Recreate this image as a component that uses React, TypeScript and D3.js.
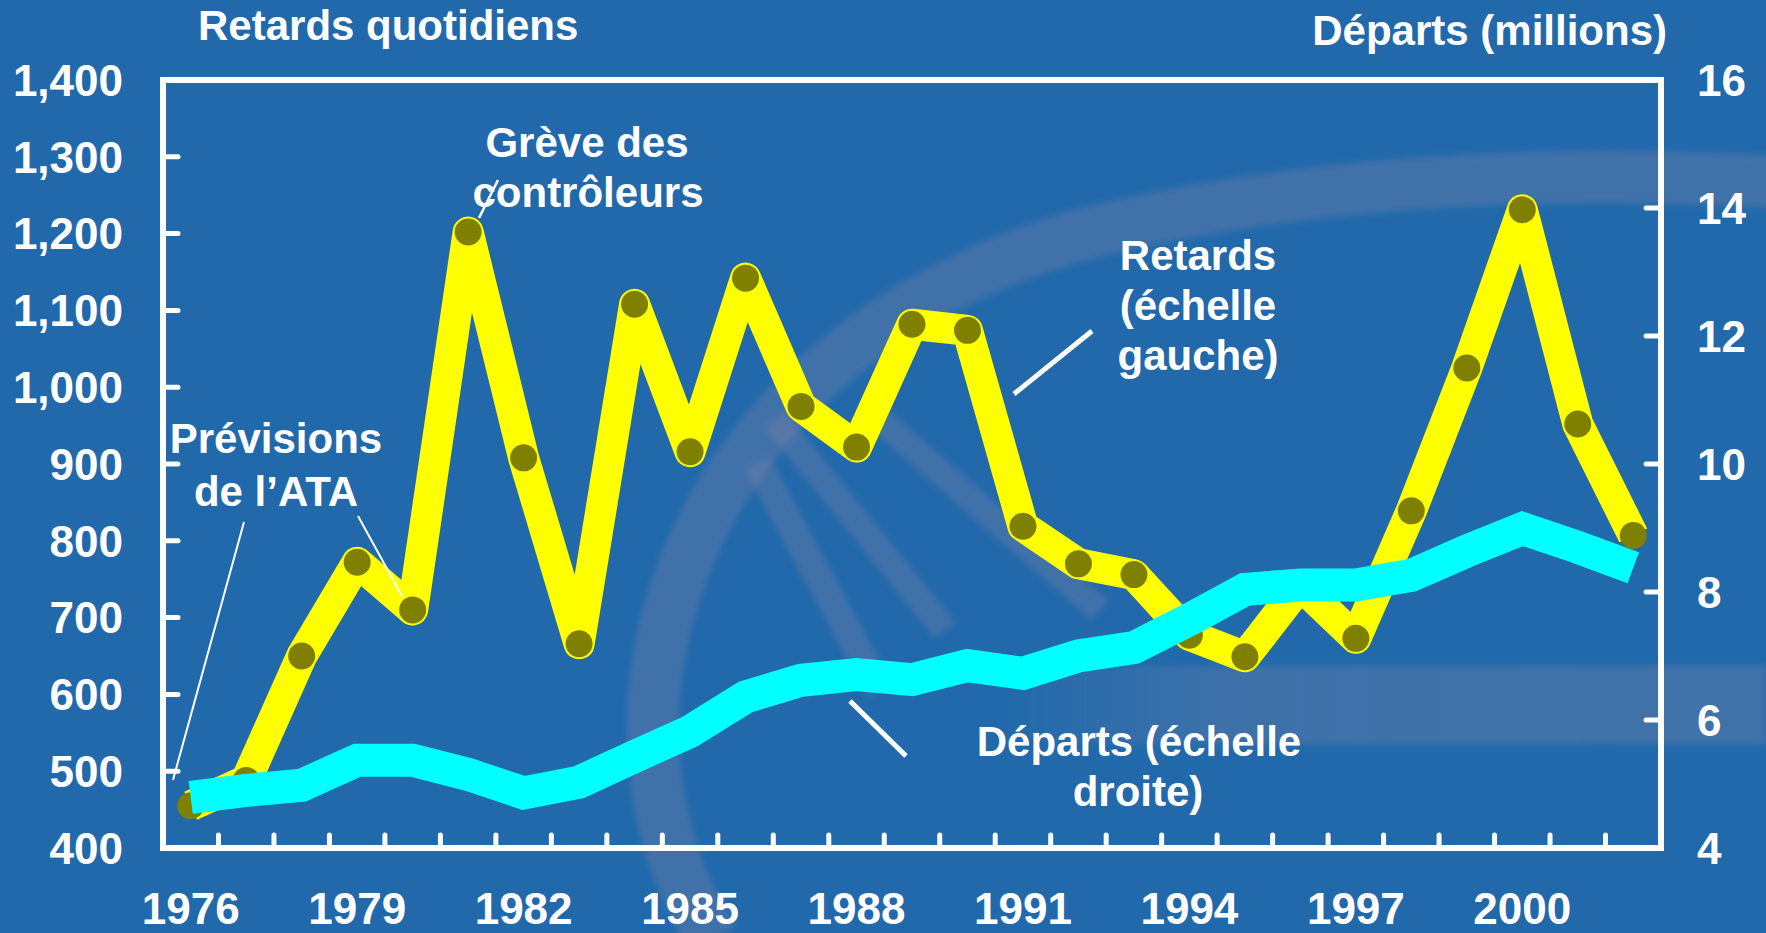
import React from 'react';
import * as d3 from 'd3';

const years = [1976, 1977, 1978, 1979, 1980, 1981, 1982, 1983, 1984, 1985, 1986, 1987, 1988, 1989, 1990, 1991, 1992, 1993, 1994, 1995, 1996, 1997, 1998, 1999, 2000, 2001, 2002];
const retards = [455, 488, 650, 772, 710, 1202, 908, 666, 1108, 916, 1142, 975, 922, 1082, 1074, 819, 770, 756, 677, 649, 742, 673, 839, 1025, 1231, 952, 807];
const departs = [4.79, 4.9, 4.98, 5.37, 5.37, 5.15, 4.86, 5.03, 5.43, 5.82, 6.36, 6.62, 6.71, 6.63, 6.85, 6.73, 7.0, 7.13, 7.57, 8.04, 8.11, 8.11, 8.26, 8.64, 8.99, 8.7, 8.38];
const leftTicks = [400, 500, 600, 700, 800, 900, 1000, 1100, 1200, 1300, 1400];
const rightTicks = [4, 6, 8, 10, 12, 14, 16];
const yearLabels = [1976, 1979, 1982, 1985, 1988, 1991, 1994, 1997, 2000];

const BG = '#2169AB';
const WM = '#8484A6';
const FONT = '"Liberation Sans", Arial, Helvetica, sans-serif';

export default function App() {
  const W = 1766, H = 933;
  const x0 = 163, x1 = 1661, y0 = 80, y1 = 848;
  const x = d3.scaleBand<number>().domain(years).range([x0, x1]);
  const cx = (yr: number) => (x(yr) as number) + x.bandwidth() / 2;
  const yL = d3.scaleLinear().domain([400, 1400]).range([y1, y0]);
  const yR = d3.scaleLinear().domain([4, 16]).range([y1, y0]);
  const lineL = d3.line<number>().x((_, i) => cx(years[i])).y(d => yL(d));
  const lineR = d3.line<number>().x((_, i) => cx(years[i])).y(d => yR(d));
  const fmt = d3.format(',');

  const txt = { fill: '#fff', fontFamily: FONT, fontWeight: 700 } as const;

  return (
    <svg width={W} height={H} style={{ position: 'fixed', left: 0, top: 0 }}>
      <defs>
        <linearGradient id="band" x1="0" x2="1" y1="0" y2="0">
          <stop offset="0" stopColor={WM} stopOpacity="0" />
          <stop offset="0.3" stopColor={WM} stopOpacity="0.3" />
          <stop offset="1" stopColor={WM} stopOpacity="0.33" />
        </linearGradient>
        <filter id="soft" x="-10%" y="-10%" width="120%" height="120%">
          <feGaussianBlur stdDeviation="3" />
        </filter>
      </defs>
      <rect width={W} height={H} fill={BG} />
      {/* watermark */}
      <g fill="none" stroke={WM} strokeOpacity={0.33} filter="url(#soft)">
        <path d="M714,940 C560,700 700,330 1100,230 C1350,172 1600,172 1780,182" strokeWidth={52} />
        <path d="M757,463 L880,690" strokeWidth={28} />
        <path d="M775,420 L945,630" strokeWidth={26} />
        <path d="M880,420 L1100,610" strokeWidth={26} />
      </g>
      <rect x={1000} y={666} width={766} height={78} fill="url(#band)" filter="url(#soft)" />

      {/* frame */}
      <rect x={x0} y={y0} width={x1 - x0} height={y1 - y0} fill="none" stroke="#fff" strokeWidth={6} />
      {leftTicks.slice(1, -1).map(t => (
        <line key={'l' + t} x1={x0} x2={x0 + 15} y1={yL(t)} y2={yL(t)} stroke="#fff" strokeWidth={5} strokeLinecap="round" />
      ))}
      {rightTicks.slice(1, -1).map(t => (
        <line key={'r' + t} x1={x1} x2={x1 - 15} y1={yR(t)} y2={yR(t)} stroke="#fff" strokeWidth={5} strokeLinecap="round" />
      ))}
      {years.slice(1).map(yr => (
        <line key={'b' + yr} x1={x(yr)} x2={x(yr)} y1={y1} y2={y1 - 13} stroke="#fff" strokeWidth={5} strokeLinecap="round" />
      ))}

      {/* tick labels */}
      {leftTicks.map(t => (
        <text key={'lt' + t} x={123} y={yL(t)} dy="0.36em" textAnchor="end" fontSize={44} {...txt}>{fmt(t)}</text>
      ))}
      {rightTicks.map(t => (
        <text key={'rt' + t} x={1697} y={yR(t)} dy="0.36em" textAnchor="start" fontSize={44} {...txt}>{t}</text>
      ))}
      {yearLabels.map(yr => (
        <text key={'yl' + yr} x={cx(yr)} y={924} textAnchor="middle" fontSize={44} {...txt}>{yr}</text>
      ))}

      {/* titles */}
      <text x={198} y={40} fontSize={42} {...txt}>Retards quotidiens</text>
      <text x={1667} y={45} textAnchor="end" fontSize={42} {...txt}>Départs (millions)</text>

      {/* series */}
      <path d={lineL(retards) || ''} fill="none" stroke="#FFFF00" strokeWidth={31} strokeLinejoin="round" strokeLinecap="butt" />
      {retards.map((v, i) => (
        <circle key={'d' + i} cx={cx(years[i])} cy={yL(v)} r={13.5} fill="#808000" />
      ))}
      <path d={lineR(departs) || ''} fill="none" stroke="#00FFFF" strokeWidth={33} strokeLinejoin="miter" strokeLinecap="butt" />

      {/* annotations */}
      <text x={587} y={157} textAnchor="middle" fontSize={42} {...txt}>Grève des</text>
      <text x={588} y={207} textAnchor="middle" fontSize={42} {...txt}>contrôleurs</text>
      <line x1={479} y1={218} x2={498} y2={180} stroke="#fff" strokeWidth={2.5} />

      <text x={276} y={453} textAnchor="middle" fontSize={42} {...txt}>Prévisions</text>
      <text x={276} y={506} textAnchor="middle" fontSize={42} {...txt}>de l’ATA</text>
      <line x1={244} y1={522} x2={173} y2={780} stroke="#fff" strokeWidth={2} />
      <line x1={358} y1={516} x2={402} y2={596} stroke="#fff" strokeWidth={2} />

      <text x={1198} y={270} textAnchor="middle" fontSize={42} {...txt}>Retards</text>
      <text x={1198} y={320} textAnchor="middle" fontSize={42} {...txt}>(échelle</text>
      <text x={1198} y={370} textAnchor="middle" fontSize={42} {...txt}>gauche)</text>
      <line x1={1092} y1={331} x2={1014} y2={394} stroke="#fff" strokeWidth={5} />

      <text x={1139} y={756} textAnchor="middle" fontSize={42} {...txt}>Départs (échelle</text>
      <text x={1138} y={806} textAnchor="middle" fontSize={42} {...txt}>droite)</text>
      <line x1={850} y1={701} x2={906} y2={756} stroke="#fff" strokeWidth={5} />
    </svg>
  );
}
